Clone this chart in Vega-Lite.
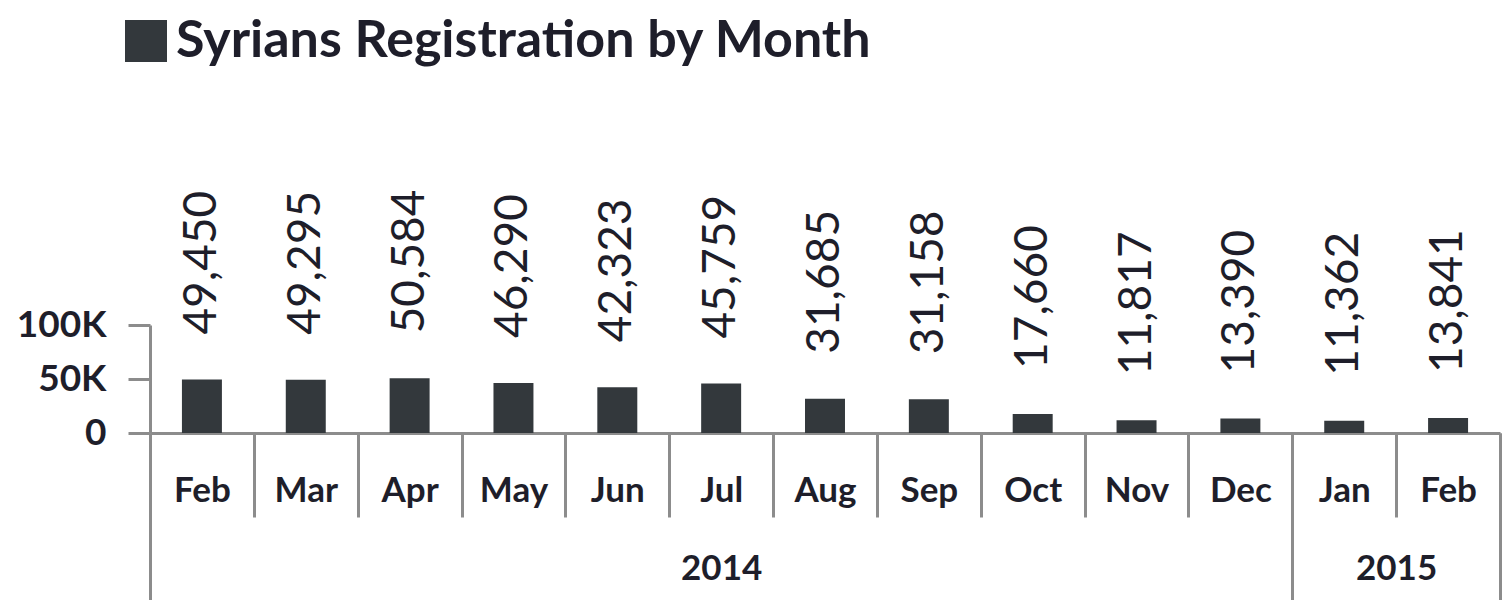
{
  "$schema": "https://vega.github.io/schema/vega-lite/v6.json",
  "width": 1350,
  "height": 108,
  "autosize": {"type": "none"},
  "padding": {"left": 150, "top": 325, "right": 3, "bottom": 167},
  "background": "white",
  "config": {"view": {"stroke": null}, "font": "Lato"},
  "data": {
    "values": [
      {"month": "Feb 2014", "value": 49450},
      {"month": "Mar 2014", "value": 49295},
      {"month": "Apr 2014", "value": 50584},
      {"month": "May 2014", "value": 46290},
      {"month": "Jun 2014", "value": 42323},
      {"month": "Jul 2014", "value": 45759},
      {"month": "Aug 2014", "value": 31685},
      {"month": "Sep 2014", "value": 31158},
      {"month": "Oct 2014", "value": 17660},
      {"month": "Nov 2014", "value": 11817},
      {"month": "Dec 2014", "value": 13390},
      {"month": "Jan 2015", "value": 11362},
      {"month": "Feb 2015", "value": 13841}
    ]
  },
  "layer": [
    {
      "mark": {"type": "bar", "width": {"band": 0.385}},
      "encoding": {
        "x": {
          "field": "month",
          "type": "nominal",
          "sort": null,
          "scale": {"type": "band", "paddingInner": 0, "paddingOuter": 0},
          "axis": {
            "title": null,
            "orient": "bottom",
            "tickBand": "extent",
            "tickSize": 84,
            "tickWidth": 3,
            "tickColor": "#8c8c8c",
            "domainColor": "#8c8c8c",
            "domainWidth": 3,
            "labelExpr": "datum.value ? split(datum.value, ' ')[0] : ''",
            "labelFont": "Lato",
            "labelFontSize": 35,
            "labelFontWeight": "bold",
            "labelColor": "#1e1e2a",
            "labelBaseline": "middle",
            "labelPadding": -27,
            "labelAngle": 0,
            "labelOverlap": false,
            "grid": false
          }
        },
        "y": {
          "field": "value",
          "type": "quantitative",
          "scale": {"domain": [0, 100000], "nice": false},
          "axis": {
            "title": null,
            "values": [0, 50000, 100000],
            "labelExpr": "datum.value == 0 ? '0' : (datum.value / 1000) + 'K'",
            "tickSize": 22,
            "tickWidth": 3,
            "tickColor": "#8c8c8c",
            "domainColor": "#8c8c8c",
            "domainWidth": 3,
            "labelFont": "Lato",
            "labelFontSize": 37,
            "labelFontWeight": "bold",
            "labelColor": "#1e1e2a",
            "labelPadding": 22,
            "labelOverlap": false,
            "grid": false
          }
        },
        "color": {
          "datum": "Syrians Registration by Month",
          "type": "nominal",
          "scale": {"range": ["#33383c"]},
          "legend": {
            "title": null,
            "orient": "none",
            "legendX": -30,
            "legendY": -310,
            "symbolType": "square",
            "symbolSize": 1764,
            "symbolStrokeWidth": 0,
            "symbolOpacity": 1,
            "labelFont": "Lato",
            "labelFontSize": 52,
            "labelFontWeight": "bold",
            "labelColor": "#1e1e2a",
            "labelOffset": 4,
            "labelLimit": 1000
          }
        }
      }
    },
    {
      "mark": {
        "type": "text",
        "angle": 270,
        "align": "left",
        "baseline": "middle",
        "dx": 45,
        "fontSize": 46,
        "font": "Lato",
        "color": "#1e1e2a"
      },
      "encoding": {
        "x": {
          "field": "month",
          "type": "nominal",
          "sort": null,
          "bandPosition": 0.5,
          "scale": {"type": "band", "paddingInner": 0, "paddingOuter": 0},
          "axis": {
            "title": null,
            "orient": "bottom",
            "tickBand": "extent",
            "tickSize": 170,
            "tickWidth": 3,
            "tickColor": "#8c8c8c",
            "tickOpacity": {"condition": {"test": "datum.extra || datum.value == 'Dec 2014' || datum.value == 'Feb 2015'", "value": 1}, "value": 0},
            "domain": false,
            "labelExpr": "datum.value == 'Jul 2014' ? '2014' : datum.value == 'Feb 2015' ? '2015' : ''",
            "labelOffset": {"condition": {"test": "datum.value == 'Feb 2015'", "value": -52}, "value": 0},
            "labelFont": "Lato",
            "labelFontSize": 35,
            "labelFontWeight": "bold",
            "labelColor": "#1e1e2a",
            "labelBaseline": "middle",
            "labelPadding": -35,
            "labelAngle": 0,
            "labelOverlap": false,
            "grid": false
          }
        },
        "y": {"field": "value", "type": "quantitative"},
        "text": {"field": "value", "type": "quantitative", "format": ",d"}
      }
    }
  ],
  "resolve": {"scale": {"x": "independent"}}
}
